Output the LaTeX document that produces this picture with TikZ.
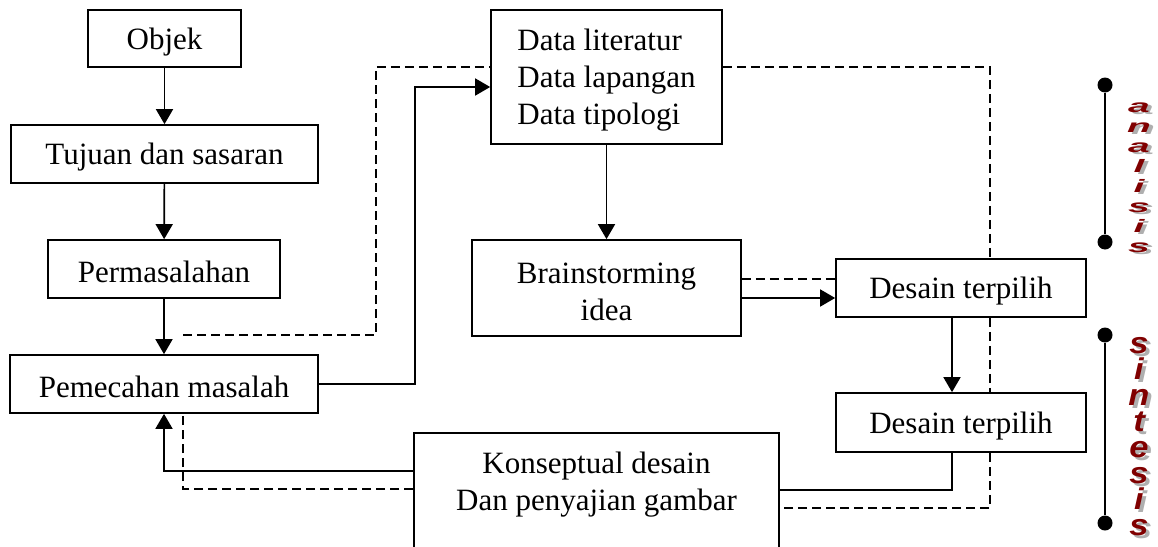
\documentclass[tikz,border=0pt]{standalone}
\usepackage{fontspec}
\setmainfont{Liberation Serif}
\setsansfont{Liberation Sans}
\usetikzlibrary{arrows.meta}
\definecolor{wordred}{RGB}{128,0,0}
\definecolor{wordshade}{RGB}{175,175,175}
\newcommand{\shadowed}[1]{\rlap{\kern3pt\raisebox{-3pt}{\textcolor{wordshade}{#1}}}\textcolor{wordred}{#1}}
\newcommand{\topgap}{\rule{0pt}{28pt}}
\begin{document}
\begin{tikzpicture}
	[
	x = 1pt,
	y = -1pt,
	box/.style = {draw = black, line width = 1.7pt, fill = white, inner sep = 0pt, align = center, font = \fontsize{31}{37}\selectfont},
	flow/.style = {line width = 1.7pt, -{Triangle[length = 15pt, width = 17pt]}},
	link/.style = {line width = 1.7pt},
	feedback/.style = {line width = 1.7pt, dash pattern = on 9pt off 5pt},
	dot/.style = {circle, fill = black, inner sep = 0pt, minimum size = 15pt},
	wordcolumn/.style = {inner sep = 0pt, align = center, transform shape}]
	
	\useasboundingbox (0, 0) rectangle (1158, 546);
	
	%% Drawing the boxes
	
	\node[box, minimum width = 153pt, minimum height = 57pt] (objek) at (164.5, 38.5) {\topgap Objek};
	\node[box, minimum width = 307pt, minimum height = 58pt] (tujuan) at (164.5, 154) {\topgap Tujuan dan sasaran};
	\node[box, minimum width = 232pt, minimum height = 58pt] (masalah) at (164, 269) {\topgap Permasalahan};
	\node[box, minimum width = 308pt, minimum height = 58pt] (pemecahan) at (164, 384) {\topgap Pemecahan masalah};
	\node[box, align = left, minimum width = 231pt, minimum height = 134pt] (data) at (606.5, 77) {\topgap Data literatur\\Data lapangan\\Data tipologi};
	\node[box, minimum width = 269pt, minimum height = 96pt] (brain) at (606.5, 288) {\topgap Brainstorming\\idea};
	\node[box, minimum width = 250pt, minimum height = 58pt] (pilih1) at (961, 288) {\topgap Desain terpilih};
	\node[box, minimum width = 250pt, minimum height = 59pt] (pilih2) at (961, 422.5) {\topgap Desain terpilih};
	\node[box, minimum width = 365pt, minimum height = 139pt] (konsep) at (596.5, 502.5) {\topgap Konseptual desain\\Dan penyajian gambar\\ \strut};
	
	%% Drawing the connectors
	
	\draw[flow] (objek) -- (tujuan);
	\draw[flow] (tujuan) -- (masalah);
	\draw[flow] (masalah) -- (pemecahan);
	\draw[flow] (pemecahan.east) -- ++(96, 0) |- ([yshift = -10pt]data.west);
	\draw[feedback] ([shift = {(19, -19)}]pemecahan.north) -- ++(193, 0) |- ([yshift = 10pt]data.west);
	\draw[flow] (data) -- (brain);
	\draw[flow] ([yshift = -10pt]brain.east) -- ([yshift = -10pt]pilih1.west);
	\draw[feedback] ([yshift = 9pt]brain.east) -- ([yshift = 9pt]pilih1.west);
	\draw[flow] ([xshift = -9pt]pilih1.south) -- ([xshift = -9pt]pilih2.north);
	\draw[feedback] ([yshift = 10pt]data.east) -| ([xshift = 29pt]pilih1.north);
	\draw[feedback] ([xshift = 29pt]pilih1.south) -- ([xshift = 29pt]pilih2.north);
	\draw[feedback] ([xshift = 29pt]pilih2.south) |- ([yshift = -5.5pt]konsep.east);
	\draw[link] ([xshift = -9pt]pilih2.south) |- ([yshift = 12.5pt]konsep.east);
	\draw[flow] ([yshift = 31.5pt]konsep.west) -| (pemecahan.south);
	\draw[feedback] ([yshift = 13.5pt]konsep.west) -| ([xshift = 19pt]pemecahan.south);
	
	%% Analisis and sintesis bars
	
	\node[dot] (atop) at (1105, 85) {};
	\node[dot] (abot) at (1105, 242) {};
	\node[dot] (stop) at (1105, 335) {};
	\node[dot] (sbot) at (1105, 523) {};
	\draw[link] (atop) -- (abot);
	\draw[link] (stop) -- (sbot);
	
	\node[wordcolumn, xscale = 1.3, yscale = 0.6, font = \sffamily\bfseries\itshape\fontsize{30}{33.3}\selectfont] (analisis) at (1139, 179)
		{\shadowed{a}\\\shadowed{n}\\\shadowed{a}\\\shadowed{l}\\\shadowed{i}\\\shadowed{s}\\\shadowed{i}\\\shadowed{s}};
	\node[wordcolumn, xscale = 1.15, font = \sffamily\bfseries\itshape\fontsize{30}{26}\selectfont] (sintesis) at (1139, 438)
		{\shadowed{s}\\\shadowed{i}\\\shadowed{n}\\\shadowed{t}\\\shadowed{e}\\\shadowed{s}\\\shadowed{i}\\\shadowed{s}};
\end{tikzpicture}
\end{document}
